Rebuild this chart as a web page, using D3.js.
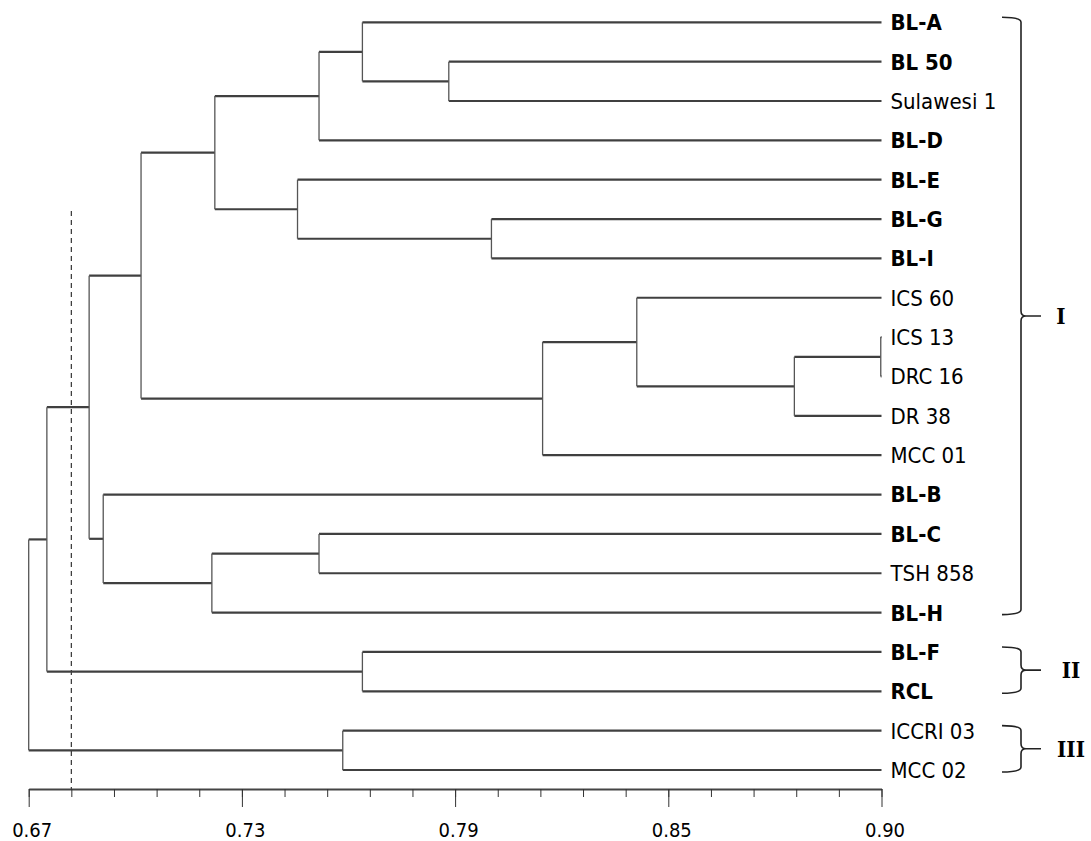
<!DOCTYPE html>
<html>
<head>
<meta charset="utf-8">
<script src="https://cdn.jsdelivr.net/npm/d3@7"></script>
<style>
    body { margin: 0; background: #fff; }
    svg text { font-family: "DejaVu Sans Condensed", "DejaVu Sans", sans-serif; font-stretch: condensed; fill: #000; }
</style>
</head>
<body>
<svg id="chart" width="1091" height="841"></svg>
<script>
// =============================
// Dendrogram data
// =============================

const leaves = ["BL-A", "BL 50", "Sulawesi 1", "BL-D", "BL-E", "BL-G", "BL-I",
    "ICS 60", "ICS 13", "DRC 16", "DR 38", "MCC 01", "BL-B", "BL-C", "TSH 858",
    "BL-H", "BL-F", "RCL", "ICCRI 03", "MCC 02"];

const boldLeaves = ["BL-A", "BL 50", "BL-D", "BL-E", "BL-G", "BL-I", "BL-B",
    "BL-C", "BL-H", "BL-F", "RCL"];

// [id, first child, second child, similarity]
const merges = [
    ["n1", "BL 50", "Sulawesi 1", 0.7833],
    ["n2", "BL-A", "n1", 0.7600],
    ["n3", "n2", "BL-D", 0.7483],
    ["n4", "BL-G", "BL-I", 0.7948],
    ["n5", "BL-E", "n4", 0.7425],
    ["n6", "n3", "n5", 0.7202],
    ["n7", "ICS 13", "DRC 16", 0.8998],
    ["n8", "n7", "DR 38", 0.8765],
    ["n9", "ICS 60", "n8", 0.8340],
    ["n10", "n9", "MCC 01", 0.8086],
    ["n11", "n6", "n10", 0.7003],
    ["n12", "BL-C", "TSH 858", 0.7483],
    ["n13", "n12", "BL-H", 0.7194],
    ["n14", "BL-B", "n13", 0.6901],
    ["n15", "n11", "n14", 0.6863],
    ["n16", "BL-F", "RCL", 0.7600],
    ["n17", "n15", "n16", 0.6749],
    ["n18", "ICCRI 03", "MCC 02", 0.7547],
    ["n19", "n17", "n18", 0.6700]
];

// groups drawn with braces: [label, first leaf, last leaf]
const groups = [
    ["I", "BL-A", "BL-H"],
    ["II", "BL-F", "RCL"],
    ["III", "ICCRI 03", "MCC 02"]
];

const cutValue = 0.6815;
const minorTicks = d3.range(21).map(i => 0.67 + i * 0.0115);
const majorTicks = [0.67, 0.7275, 0.785, 0.8425, 0.90];
const majorLabels = ["0.67", "0.73", "0.79", "0.85", "0.90"];

// =============================
// Build hierarchy
// =============================

const lookup = {};
leaves.forEach(name => { lookup[name] = { name: name, sim: 0.90, leaf: true }; });
merges.forEach(m => {
    lookup[m[0]] = { name: m[0], sim: m[3], children: [lookup[m[1]], lookup[m[2]]] };
});
const root = d3.hierarchy(lookup[merges[merges.length - 1][0]]);

const svg = d3.select("#chart");

const x = d3.scaleLinear().domain([0.67, 0.90]).range([28.7, 881.5]);
const y = d3.scalePoint().domain(leaves).range([22.3, 770]);
const axisY = 789;

root.eachAfter(d => {
    d.px = x(d.data.sim);
    if (d.children) {
        d.py = (d.children[0].py + d.children[1].py) / 2;
    } else {
        d.py = y(d.data.name);
    }
});

const g = svg.append("g");

// cut line
g.append("line")
    .attr("x1", x(cutValue)).attr("x2", x(cutValue))
    .attr("y1", 211).attr("y2", axisY)
    .attr("stroke", "#333")
    .attr("stroke-width", 1.2)
    .attr("stroke-dasharray", "5,4");

// horizontal branches
g.append("g")
    .selectAll("line")
    .data(root.descendants().filter(d => d.parent))
    .enter()
    .append("line")
    .attr("x1", d => d.parent.px)
    .attr("x2", d => d.px)
    .attr("y1", d => d.py)
    .attr("y2", d => d.py)
    .attr("stroke", "#404040")
    .attr("stroke-width", 2.2);

// vertical joins
g.append("g")
    .selectAll("line")
    .data(root.descendants().filter(d => d.children))
    .enter()
    .append("line")
    .attr("x1", d => d.px)
    .attr("x2", d => d.px)
    .attr("y1", d => d.children[0].py)
    .attr("y2", d => d.children[1].py)
    .attr("stroke", "#555")
    .attr("stroke-width", 1.3);

// leaf labels
g.append("g")
    .selectAll("text")
    .data(root.leaves())
    .enter()
    .append("text")
    .attr("x", d => d.px + 9)
    .attr("y", d => d.py)
    .attr("dy", "0.36em")
    .attr("font-size", "22px")
    .attr("font-weight", d => boldLeaves.includes(d.data.name) ? "bold" : "normal")
    .text(d => d.data.name);

// =============================
// Axis
// =============================

const minorAxis = d3.axisBottom(x)
    .tickValues(minorTicks)
    .tickSize(8)
    .tickSizeOuter(0)
    .tickFormat("");

const majorAxis = d3.axisBottom(x)
    .tickValues(majorTicks)
    .tickSize(18)
    .tickSizeOuter(0)
    .tickFormat((d, i) => majorLabels[i]);

const axisMinor = svg.append("g")
    .attr("transform", `translate(0,${axisY})`)
    .call(minorAxis);
axisMinor.select(".domain").attr("stroke", "#444").attr("stroke-width", 2.2);
axisMinor.selectAll(".tick line").attr("stroke", "#333");

const axisMajor = svg.append("g")
    .attr("transform", `translate(0,${axisY})`)
    .call(majorAxis);
axisMajor.select(".domain").remove();
axisMajor.selectAll(".tick line").attr("stroke", "#333");
axisMajor.selectAll(".tick text")
    .attr("y", 48)
    .attr("dy", 0)
    .attr("dx", 3)
    .attr("font-size", "20px")
    .attr("font-family", null)
    .attr("fill", "#000");

// =============================
// Group braces
// =============================

const braceX = 1021;
const hookX = 1002;
const tipX = 1041;
const r = 5;

groups.forEach(grp => {
    const top = y(grp[1]) - 5;
    const bottom = y(grp[2]) + 2;
    const mid = (top + bottom) / 2;
    const p = d3.path();
    p.moveTo(hookX, top);
    p.quadraticCurveTo(braceX, top, braceX, top + r);
    p.lineTo(braceX, mid - r);
    p.quadraticCurveTo(braceX, mid, braceX + r, mid);
    p.lineTo(tipX, mid);
    p.moveTo(braceX + r, mid);
    p.quadraticCurveTo(braceX, mid, braceX, mid + r);
    p.lineTo(braceX, bottom - r);
    p.quadraticCurveTo(braceX, bottom, hookX, bottom);

    svg.append("path")
        .attr("d", p.toString())
        .attr("fill", "none")
        .attr("stroke", "#222")
        .attr("stroke-width", 1.6);

    svg.append("text")
        .attr("x", 1071 - (grp[0] === "I" ? 10 : 0))
        .attr("y", mid)
        .attr("dy", "0.36em")
        .attr("text-anchor", "middle")
        .attr("font-size", "22px")
        .attr("font-weight", "bold")
        .style("font-family", "'DejaVu Serif', serif")
        .text(grp[0]);
});
</script>
</body>
</html>
